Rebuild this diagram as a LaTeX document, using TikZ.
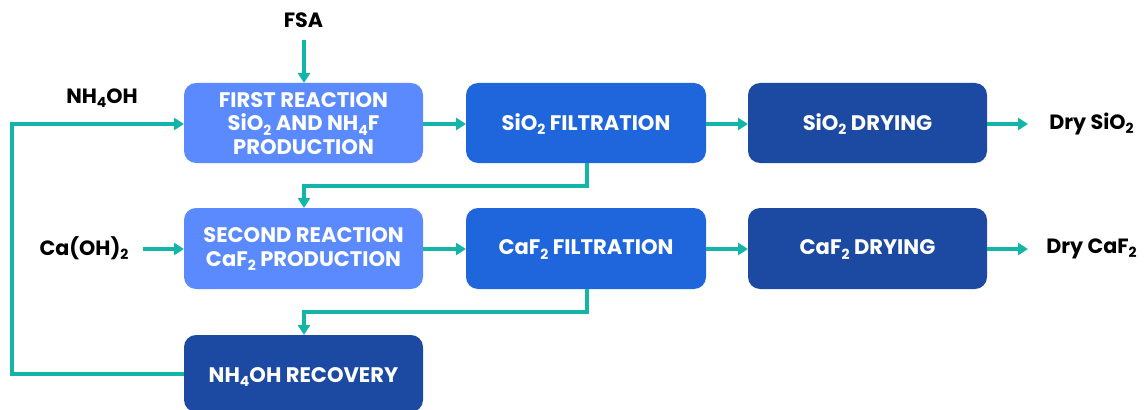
\documentclass[tikz,border=0pt]{standalone}
\usepackage{fontspec}
\setmainfont{Poppins}
\usetikzlibrary{arrows.meta}
\definecolor{lightb}{HTML}{5A8AFD}
\definecolor{midb}{HTML}{1F66DD}
\definecolor{darkb}{HTML}{1C4AA2}
\definecolor{teal}{HTML}{13B5A8}
\newcommand{\chsub}[1]{\raisebox{-0.35ex}{\fontsize{10.5}{10.5}\selectfont #1}}
\tikzset{
  procbox/.style={inner sep=0pt, text=white, font=\bfseries\fontsize{15.8}{17.5}\selectfont, align=center},
  lbl/.style={font=\bfseries\fontsize{15.5}{17}\selectfont, text=black, inner sep=0pt},
  flow/.style={teal, line width=2.3pt, -{Triangle[length=7.5pt,width=9pt]}},
}
\begin{document}
\begin{tikzpicture}[x=0.75pt,y=-0.75pt]
\useasboundingbox (0,0) rectangle (1147,410);
% boxes
\fill[lightb, rounded corners=9pt] (184,83) rectangle (423,163);
\node[procbox] (b1) at (303.5,123.5) {FIRST REACTION\\SiO\chsub{2} AND NH\chsub{4}F\\PRODUCTION};
\fill[midb, rounded corners=9pt] (466,83) rectangle (706,163);
\node[procbox] (b2) at (586,124.5) {SiO\chsub{2} FILTRATION};
\fill[darkb, rounded corners=9pt] (748,83) rectangle (987,163);
\node[procbox] (b3) at (867.5,124.5) {SiO\chsub{2} DRYING};
\fill[lightb, rounded corners=9pt] (184,208) rectangle (423,289);
\node[procbox] (c1) at (303.5,249) {SECOND REACTION\\CaF\chsub{2} PRODUCTION};
\fill[midb, rounded corners=9pt] (466,208) rectangle (706,289);
\node[procbox] (c2) at (586,249.5) {CaF\chsub{2} FILTRATION};
\fill[darkb, rounded corners=9pt] (748,208) rectangle (987,289);
\node[procbox] (c3) at (867.5,249.5) {CaF\chsub{2} DRYING};
\fill[darkb, rounded corners=9pt] (184,335) rectangle (423,412);
\node[procbox] (d1) at (303.5,377) {NH\chsub{4}OH RECOVERY};
% named anchors
\coordinate (b1w) at (184,124); \coordinate (b1e) at (423,124);
\coordinate (b1n) at (304,83);
\coordinate (b2w) at (466,124); \coordinate (b2e) at (706,124); \coordinate (b2s) at (587,163);
\coordinate (b3w) at (748,124); \coordinate (b3e) at (987,124);
\coordinate (c1w) at (184,249); \coordinate (c1e) at (423,249); \coordinate (c1n) at (304,208);
\coordinate (c2w) at (466,249); \coordinate (c2e) at (706,249); \coordinate (c2s) at (587,289);
\coordinate (c3w) at (748,249); \coordinate (c3e) at (987,249);
\coordinate (d1w) at (184,374); \coordinate (d1n) at (304,335);
% labels
\node[lbl] (fsa) at (303.5,20) {FSA};
\coordinate (fsaS) at (304,40);
\node[lbl] (nh4oh) at (102,98) {NH\chsub{4}OH};
\node[lbl] (caoh) at (84,248) {Ca(OH)\chsub{2}};
\coordinate (caohE) at (143,249);
\node[lbl, anchor=west] (drysio) at (1049,124) {Dry SiO\chsub{2}};
\coordinate (drysioW) at (1028,124);
\node[lbl, anchor=west] (drycaf) at (1046,249) {Dry CaF\chsub{2}};
\coordinate (drycafW) at (1028,249);
% connectors
\draw[flow] (fsaS) -- (b1n);
\draw[flow] (d1w) -- (12,374) -- (12,124) -- (b1w);
\draw[flow] (b1e) -- (b2w);
\draw[flow] (b2e) -- (b3w);
\draw[flow] (b3e) -- (drysioW);
\draw[flow] (b2s) -- (587,186) -- (304,186) -- (c1n);
\draw[flow] (caohE) -- (c1w);
\draw[flow] (c1e) -- (c2w);
\draw[flow] (c2e) -- (c3w);
\draw[flow] (c3e) -- (drycafW);
\draw[flow] (c2s) -- (587,312) -- (304,312) -- (d1n);
\end{tikzpicture}
\end{document}
